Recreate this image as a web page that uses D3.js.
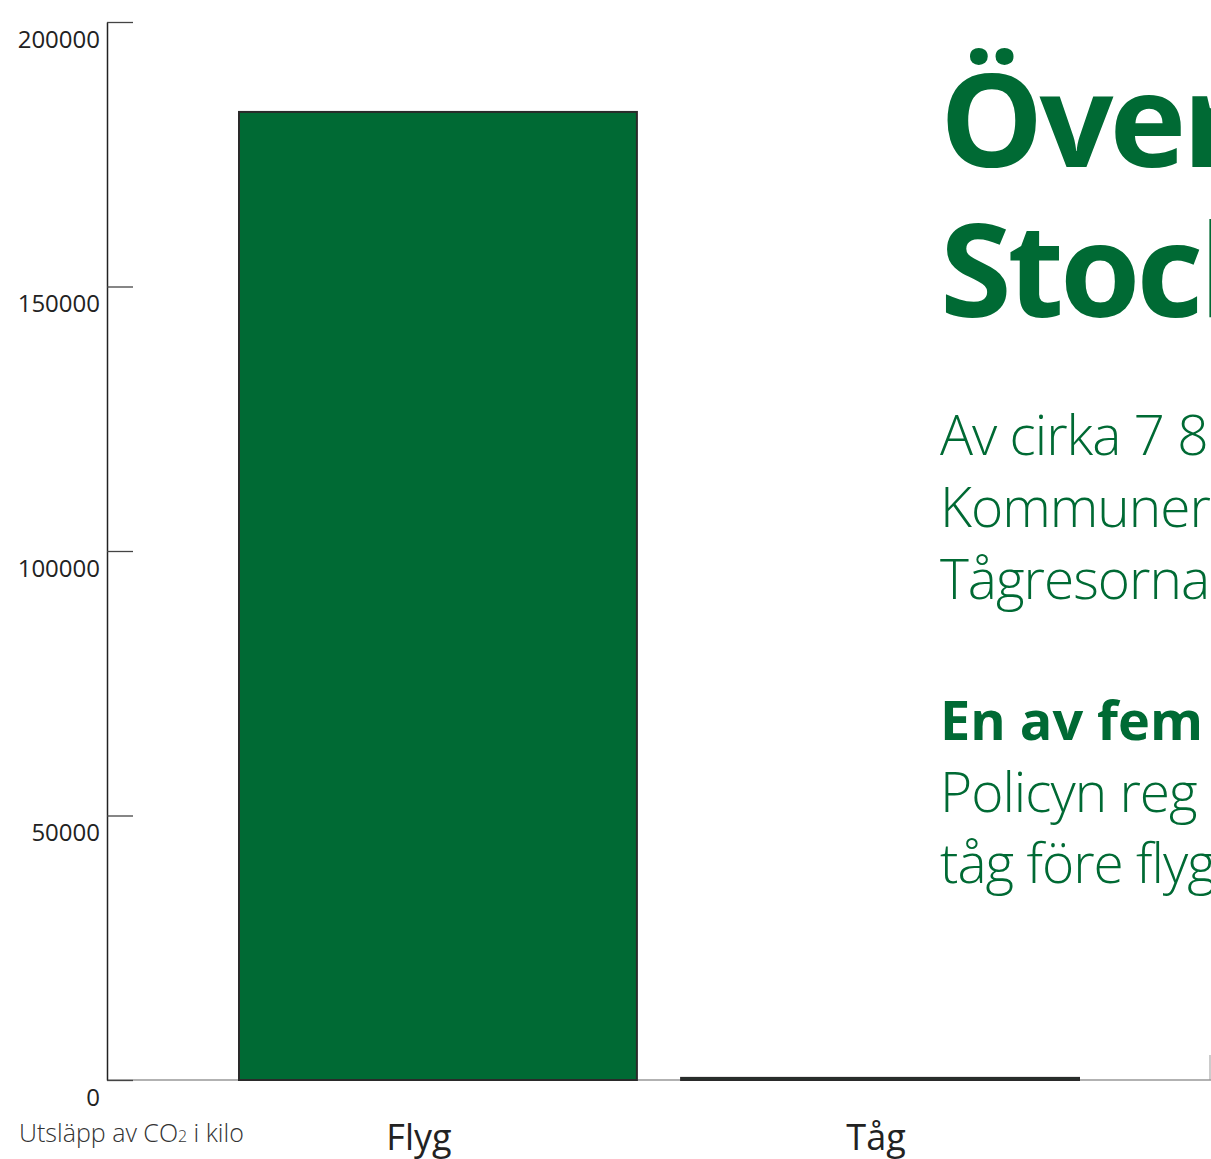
<!DOCTYPE html>
<html><head><meta charset="utf-8">
<script src="https://cdn.jsdelivr.net/npm/d3@7"></script>
<style>
html,body{margin:0;padding:0;background:#fff;overflow:hidden;}
svg{display:block;}
</style></head>
<body>
<script>
const categories = ["Flyg", "Tåg"];
const values = [183000, 400];
const yTicks = [0, 50000, 100000, 150000, 200000];
const axisTitle = ["Utsläpp av CO", "2", " i kilo"];
const titleLines = ["Över", "Stock"];
const bodyLines1 = ["Av cirka 7 8", "Kommuner", "Tågresorna"];
const boldLine = "En av fem";
const bodyLines2 = ["Policyn reg", "tåg före flyg"];

const W = 1211, H = 1159;
const green = "#006a34";
const font = "'Open Sans', 'Noto Sans', sans-serif";

const svg = d3.select("body").append("svg").attr("width", W).attr("height", H);

const y = d3.scaleLinear().domain([0, 200000]).range([1080, 22]);
const x = d3.scaleBand().domain(categories).range([239, 1079]).paddingInner(0.1).paddingOuter(0);

// baseline
svg.append("line").attr("x1", 107).attr("x2", W).attr("y1", y(0)).attr("y2", y(0))
  .attr("stroke", "#666").attr("stroke-width", 1.2);
svg.append("line").attr("x1", 1210).attr("x2", 1210).attr("y1", 1055).attr("y2", y(0))
  .attr("stroke", "#999").attr("stroke-width", 1);

// bars
svg.selectAll("rect.bar").data(categories).enter().append("rect")
  .attr("class", "bar")
  .attr("x", d => x(d))
  .attr("width", x.bandwidth())
  .attr("y", (d, i) => y(values[i]))
  .attr("height", (d, i) => y(0) - y(values[i]))
  .attr("fill", green)
  .attr("stroke", "#2a2a2a")
  .attr("stroke-width", 2);

// y axis
const axis = d3.axisLeft(y).tickValues(yTicks).tickFormat(d3.format("d"))
  .tickSizeInner(-26).tickSizeOuter(0).tickPadding(7);
const gA = svg.append("g").attr("transform", "translate(107,0)").call(axis);
gA.select(".domain").attr("stroke", "#222").attr("stroke-width", 1.5);
gA.selectAll(".tick line").attr("stroke", "#444").attr("stroke-width", 1.3);
gA.selectAll(".tick text").attr("font-family", font).attr("font-size", 24)
  .attr("fill", "#222").attr("dy", "1.05em").attr("x", -7);

// axis title
const at = svg.append("text").attr("x", 19).attr("y", 1142)
  .attr("font-family", font).attr("font-size", 25).attr("font-weight", 300).attr("fill", "#333");
at.append("tspan").text(axisTitle[0]);
at.append("tspan").attr("font-size", 16).text(axisTitle[1]);
at.append("tspan").text(axisTitle[2]);

// category labels
svg.selectAll("text.cat").data(categories).enter().append("text")
  .attr("class", "cat")
  .attr("x", (d, i) => x(d) + x.bandwidth() / 2 + (i === 0 ? -19 : -4))
  .attr("y", 1150)
  .attr("text-anchor", "middle")
  .attr("font-family", font).attr("font-size", 36).attr("fill", "#222")
  .text(d => d);

// right-hand text
const tx = 940;
titleLines.forEach((t, i) => {
  svg.append("text").attr("x", tx).attr("y", 167 + i * 150)
    .attr("font-family", font).attr("font-weight", 700).attr("font-size", 130)
    .attr("fill", green).attr("letter-spacing", -4).text(t);
});
bodyLines1.forEach((t, i) => {
  svg.append("text").attr("x", tx).attr("y", 455 + i * 72)
    .attr("font-family", font).attr("font-weight", 300).attr("font-size", 55)
    .attr("fill", green).attr("letter-spacing", -1).text(t);
});
svg.append("text").attr("x", tx).attr("y", 740)
  .attr("font-family", font).attr("font-weight", 700).attr("font-size", 54)
  .attr("fill", green).text(boldLine);
bodyLines2.forEach((t, i) => {
  svg.append("text").attr("x", tx).attr("y", 812 + i * 71)
    .attr("font-family", font).attr("font-weight", 300).attr("font-size", 55)
    .attr("fill", green).attr("letter-spacing", -1).text(t);
});
</script>
</body></html>
